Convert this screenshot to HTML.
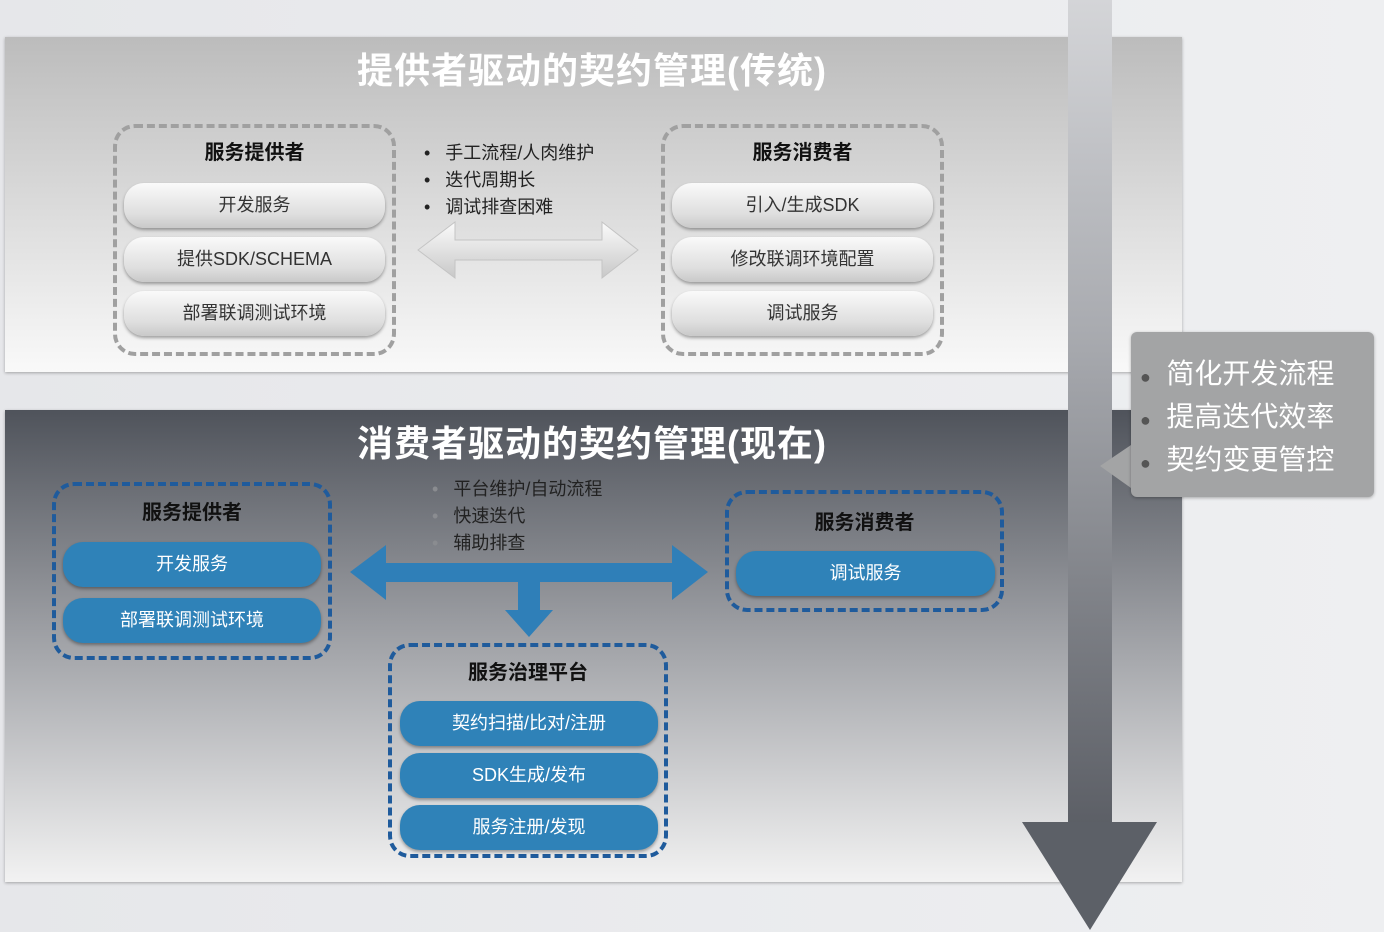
<!DOCTYPE html>
<html><head><meta charset="utf-8"><style>
*{margin:0;padding:0;box-sizing:border-box}
body{width:1384px;height:932px;overflow:hidden;position:relative;background:linear-gradient(90deg,#e6e7ea,#eeeff1);font-family:"Liberation Sans","Noto Sans CJK SC",sans-serif}
.abs{position:absolute}
.p1{left:5px;top:37px;width:1177px;height:335px;background:linear-gradient(#bcbcbc,#f9f9f9);box-shadow:0 1px 3px rgba(0,0,0,.3)}
.p2{left:5px;top:410px;width:1177px;height:472px;background:linear-gradient(#4f535b,#9a9ca1 45%,#f2f2f2);box-shadow:0 1px 3px rgba(0,0,0,.3)}
.title{position:absolute;width:1184px;left:0;text-align:center;color:#fff;font-size:36px;font-weight:bold;letter-spacing:1px}
.dg{position:absolute;border:4px dashed #a0a0a0;border-radius:22px}
.db{position:absolute;border:4px dashed #1f5b9c;border-radius:22px}
.h{position:absolute;width:100%;text-align:center;font-size:20px;font-weight:bold;color:#111}
.bg{position:absolute;height:45px;border-radius:20px;background:linear-gradient(#fafafa,#dedede 70%,#c9c9c9);box-shadow:0 2px 3px rgba(0,0,0,.35);text-align:center;line-height:45px;font-size:18px;color:#333}
.bb{position:absolute;height:45px;border-radius:20px;background:#2f82b8;box-shadow:0 2px 3px rgba(0,0,0,.35);text-align:center;line-height:45px;font-size:18px;color:#fff}
.ul{position:absolute;font-size:18px;line-height:27px;color:#222}
</style></head><body>
<div class="abs p1"></div>
<div class="abs p2"></div>
<div class="title" style="top:42px">提供者驱动的契约管理(传统)</div>
<div class="title" style="top:415px">消费者驱动的契约管理(现在)</div>

<div class="dg" style="left:113px;top:124px;width:283px;height:232px"><div class="h" style="top:8px">服务提供者</div></div>
<div class="bg" style="left:124px;top:183px;width:261px">开发服务</div>
<div class="bg" style="left:124px;top:237px;width:261px">提供SDK/SCHEMA</div>
<div class="bg" style="left:124px;top:291px;width:261px">部署联调测试环境</div>

<div class="dg" style="left:661px;top:124px;width:283px;height:232px"><div class="h" style="top:8px">服务消费者</div></div>
<div class="bg" style="left:672px;top:183px;width:261px">引入/生成SDK</div>
<div class="bg" style="left:672px;top:237px;width:261px">修改联调环境配置</div>
<div class="bg" style="left:672px;top:291px;width:261px">调试服务</div>

<div class="ul" style="left:424px;top:140px">•&nbsp;&nbsp;&nbsp;手工流程/人肉维护<br>•&nbsp;&nbsp;&nbsp;迭代周期长<br>•&nbsp;&nbsp;&nbsp;调试排查困难</div>

<svg class="abs" style="left:0;top:0" width="1384" height="932">
<defs>
<linearGradient id="ga" x1="0" y1="0" x2="0" y2="1"><stop offset="0" stop-color="#fbfbfb"/><stop offset="1" stop-color="#c8c8c8"/></linearGradient>
<linearGradient id="gs" x1="0" y1="0" x2="0" y2="1"><stop offset="0" stop-color="#d4d5d8"/><stop offset=".4" stop-color="#a9abb0"/><stop offset="1" stop-color="#5c5f66"/></linearGradient>
</defs>
<polygon points="418,250 455,222 455,240 602,240 602,222 638,250 602,278 602,260 455,260 455,278" fill="url(#ga)" stroke="#c4c4c4" stroke-width="1"/>
<polygon points="350,572 386,545 386,563 672,563 672,545 708,572 672,600 672,582 540,582 540,610 553,610 529,637 505,610 518,610 518,582 386,582 386,600" fill="#2f7fb8"/>
<rect x="1068" y="0" width="44" height="824" fill="url(#gs)"/>
<polygon points="1022,822 1157,822 1090,930" fill="#5c6067"/>
<polygon points="1100,466 1131,445 1131,488" fill="#a3a4a5"/>
</svg>

<div class="abs" style="left:1131px;top:332px;width:243px;height:165px;background:#a3a4a5;border-radius:6px;box-shadow:0 1px 3px rgba(0,0,0,.3)"></div>
<div class="abs" style="left:1140px;top:354px;font-size:28px;line-height:40px;color:#fff"><span style="color:#555;font-size:18px">●</span>&nbsp;&nbsp;简化开发流程<br><span style="color:#555;font-size:18px">●</span>&nbsp;&nbsp;提高迭代效率<br><span style="color:#555;font-size:18px">●</span>&nbsp;&nbsp;契约变更管控</div>

<div class="db" style="left:52px;top:482px;width:280px;height:178px"><div class="h" style="top:10px">服务提供者</div></div>
<div class="bb" style="left:63px;top:542px;width:258px">开发服务</div>
<div class="bb" style="left:63px;top:598px;width:258px">部署联调测试环境</div>

<div class="db" style="left:725px;top:490px;width:279px;height:122px"><div class="h" style="top:12px">服务消费者</div></div>
<div class="bb" style="left:736px;top:551px;width:259px">调试服务</div>

<div class="db" style="left:388px;top:643px;width:280px;height:215px"><div class="h" style="top:9px">服务治理平台</div></div>
<div class="bb" style="left:400px;top:701px;width:258px">契约扫描/比对/注册</div>
<div class="bb" style="left:400px;top:753px;width:258px">SDK生成/发布</div>
<div class="bb" style="left:400px;top:805px;width:258px">服务注册/发现</div>

<div class="ul" style="left:432px;top:476px;color:#222"><span style="color:#8a8c90">•</span>&nbsp;&nbsp;&nbsp;平台维护/自动流程<br><span style="color:#8a8c90">•</span>&nbsp;&nbsp;&nbsp;快速迭代<br><span style="color:#8a8c90">•</span>&nbsp;&nbsp;&nbsp;辅助排查</div>
</body></html>
